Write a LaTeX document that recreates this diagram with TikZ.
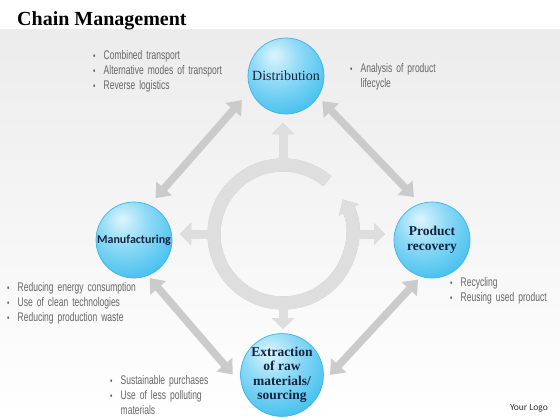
\documentclass[tikz,border=0pt]{standalone}
\usepackage{fontspec}
\setmainfont{Liberation Serif}
\newfontfamily\condfont[FakeStretch=0.68,WordSpace=1.7]{Liberation Sans}
\newfontfamily\calibfont{Carlito}
\usetikzlibrary{arrows.meta}
\definecolor{bgtop}{HTML}{ECECEC}
\definecolor{arrgray}{HTML}{CBCBCB}
\definecolor{ringgray}{HTML}{DEDEDE}
\definecolor{ringshadow}{HTML}{C4C4C4}
\definecolor{txtgray}{HTML}{666666}
\definecolor{navy}{HTML}{14233F}
\definecolor{bubA}{HTML}{DDF5FD}
\definecolor{bubB}{HTML}{8FDAF6}
\definecolor{bubC}{HTML}{45C0EE}
\definecolor{bubD}{HTML}{22A8E2}
\definecolor{bubE}{HTML}{3DB4E6}
\pgfdeclareradialshading{bubble}{\pgfpoint{-8bp}{14bp}}{color(0bp)=(bubA); color(16bp)=(bubB); color(36bp)=(bubC); color(54bp)=(bubD); color(100bp)=(bubD)}
\newcommand\bl{\makebox[10.5pt][l]{\raisebox{0.5pt}{\fontsize{10}{10}\selectfont\textbullet}}}
\tikzset{
  bubble/.style={circle, minimum size=76pt, inner sep=0pt, shading=bubble, draw=bubE, line width=0.7pt, text=navy, align=center},
  bigarrow/.style={draw=arrgray, line width=7.5pt, {Triangle[width=20pt,length=13pt]}-{Triangle[width=20pt,length=13pt]}},
  ringpart/.style={line width=13pt},
  spokepart/.style={line width=9pt, -{Triangle[width=21pt,length=11pt]}},
  listtext/.style={font={\condfont\fontsize{12.5}{15}\selectfont}, text=txtgray, align=left, inner sep=0pt, anchor=base west}
}
\begin{document}
\begin{tikzpicture}[x=1pt,y=-1pt]
\useasboundingbox (0,0) rectangle (560,420);
\fill[white] (0,0) rectangle (560,420);
\shade[top color=bgtop, bottom color=white] (0,30) rectangle (560,420);

% title and logo
\node[anchor=base west, inner sep=0pt] (title) at (17,26) {\fontsize{20}{20}\selectfont\bfseries Chain Management};
\node[anchor=base east, inner sep=0pt, text=black!80] (logo) at (548,410) {\calibfont\fontsize{9.5}{10}\selectfont Your Logo};

% central ring with spokes
\coordinate (rc) at (283,234);
\foreach \col/\dx/\dy in {ringshadow/0.8/1.2, ringgray/0/0} {
  \begin{scope}[shift={(\dx,\dy)}, draw=\col, color=\col]
    \draw[spokepart] (rc) ++(0,-69) -- ++(0,-42);
    \draw[spokepart] (rc) ++(-69,0) -- ++(-34,0);
    \draw[spokepart] (rc) ++(69,0) -- ++(33,0);
    \draw[spokepart] (rc) ++(0,69) -- ++(0,26);
    \draw[ringpart, -{Triangle[width=22pt,length=12pt]}] (rc) ++(-50:69) arc[start angle=-50, end angle=-390, radius=69];
  \end{scope}
}

% circles
\node[bubble, font={\fontsize{14}{16}\selectfont}] (dist) at (286,76) {Distribution};
\node[bubble, font={\calibfont\bfseries\fontsize{12}{14}\selectfont}] (manu) at (134,240) {Manufacturing};
\node[bubble, font={\fontsize{13.5}{15.5}\selectfont\bfseries}] (prod) at (432,240) {Product\\ recovery};
\node[bubble, minimum size=80pt, font={\fontsize{13.5}{14.5}\selectfont\bfseries}] (extr) at (282,375) {Extraction\\ of raw\\ materials/\\ sourcing};

% connectors
\draw[bigarrow, shorten <=13pt, shorten >=9pt] (dist.202) -- (manu.66);
\draw[bigarrow, shorten <=6pt, shorten >=9pt] (dist.-33) -- (prod.108);
\draw[bigarrow, shorten <=3pt, shorten >=13pt] (manu.-69) -- (extr.193);
\draw[bigarrow, shorten <=4pt, shorten >=10pt] (prod.253) -- (extr.-10);

% bullet lists (base anchor = baseline of last line)
\node[listtext] (l1) at (93,89.5) {\bl Combined transport\\ \bl Alternative modes of transport\\ \bl Reverse logistics};
\node[listtext] (l2) at (350,88) {\bl Analysis of product\\ \hspace*{10.5pt}lifecycle};
\node[listtext] (l3) at (7,321.5) {\bl Reducing energy consumption\\ \bl Use of clean technologies\\ \bl Reducing production waste};
\node[listtext] (l4) at (450,301.5) {\bl Recycling\\ \bl Reusing used product};
\node[listtext] (l5) at (110,414.5) {\bl Sustainable purchases\\ \bl Use of less polluting\\ \hspace*{10.5pt}materials};
\end{tikzpicture}
\end{document}
